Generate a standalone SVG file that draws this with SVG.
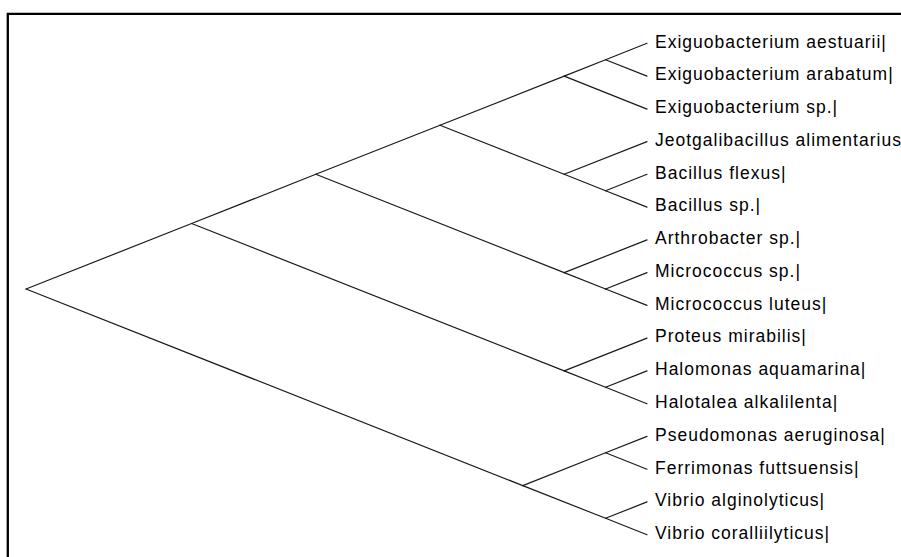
<svg xmlns="http://www.w3.org/2000/svg" width="901" height="557" viewBox="0 0 901 557">
<style>
.br{stroke:#1a1a1a;stroke-width:1.2;fill:none;stroke-linecap:round}
.lb{font-family:"Liberation Sans",Arial,sans-serif;font-size:17.5px;letter-spacing:1px;fill:#000}
.fr{stroke:#000;stroke-width:2.3;fill:none}
</style>
<rect width="901" height="557" fill="#fff"/>
<path class="fr" d="M7.8,557 V13.8 H901"/>
<g id="connectors">
<!-- root -->
<line class="br" x1="26" y1="289" x2="191.6" y2="223.5"/>
<line class="br" x1="26" y1="289" x2="522.8" y2="485.6"/>
<!-- A -->
<line class="br" x1="191.6" y1="223.5" x2="315.8" y2="174.3"/>
<line class="br" x1="191.6" y1="223.5" x2="564.2" y2="370.9"/>
<!-- B -->
<line class="br" x1="315.8" y1="174.3" x2="440" y2="125.2"/>
<line class="br" x1="315.8" y1="174.3" x2="564.2" y2="272.6"/>
<!-- C -->
<line class="br" x1="440" y1="125.2" x2="564.2" y2="76.1"/>
<line class="br" x1="440" y1="125.2" x2="564.2" y2="174.3"/>
<!-- D -->
<line class="br" x1="564.2" y1="76.1" x2="605.6" y2="59.7"/>
<line class="br" x1="564.2" y1="76.1" x2="647" y2="109.1"/>
<line class="br" x1="605.6" y1="59.7" x2="647" y2="43.3"/>
<line class="br" x1="605.6" y1="59.7" x2="647" y2="76.1"/>
<!-- G -->
<line class="br" x1="564.2" y1="174.3" x2="647" y2="141.6"/>
<line class="br" x1="564.2" y1="174.3" x2="605.6" y2="190.7"/>
<line class="br" x1="605.6" y1="190.7" x2="647" y2="174.3"/>
<line class="br" x1="605.6" y1="190.7" x2="647" y2="207.1"/>
<!-- I -->
<line class="br" x1="564.2" y1="272.6" x2="647" y2="239.9"/>
<line class="br" x1="564.2" y1="272.6" x2="605.6" y2="289"/>
<line class="br" x1="605.6" y1="289" x2="647" y2="272.6"/>
<line class="br" x1="605.6" y1="289" x2="647" y2="305.4"/>
<!-- K -->
<line class="br" x1="564.2" y1="370.9" x2="647" y2="338.1"/>
<line class="br" x1="564.2" y1="370.9" x2="605.6" y2="387.3"/>
<line class="br" x1="605.6" y1="387.3" x2="647" y2="370.9"/>
<line class="br" x1="605.6" y1="387.3" x2="647" y2="403.7"/>
<!-- N -->
<line class="br" x1="522.8" y1="485.6" x2="605.6" y2="452.8"/>
<line class="br" x1="522.8" y1="485.6" x2="605.6" y2="518.3"/>
<line class="br" x1="605.6" y1="452.8" x2="647" y2="436.4"/>
<line class="br" x1="605.6" y1="452.8" x2="647" y2="469.2"/>
<line class="br" x1="605.6" y1="518.3" x2="647" y2="501.9"/>
<line class="br" x1="605.6" y1="518.3" x2="647" y2="534.7"/>
</g>
<g id="leaf-0"><text class="lb" x="655" y="47.6">Exiguobacterium aestuarii|</text></g>
<g id="leaf-1"><text class="lb" x="655" y="80.4">Exiguobacterium arabatum|</text></g>
<g id="leaf-2"><text class="lb" x="655" y="113.4">Exiguobacterium sp.|</text></g>
<g id="leaf-3"><text class="lb" x="655" y="145.9">Jeotgalibacillus alimentarius</text></g>
<g id="leaf-4"><text class="lb" x="655" y="178.6">Bacillus flexus|</text></g>
<g id="leaf-5"><text class="lb" x="655" y="211.4">Bacillus sp.|</text></g>
<g id="leaf-6"><text class="lb" x="655" y="244.2">Arthrobacter sp.|</text></g>
<g id="leaf-7"><text class="lb" x="655" y="276.9">Micrococcus sp.|</text></g>
<g id="leaf-8"><text class="lb" x="655" y="309.7">Micrococcus luteus|</text></g>
<g id="leaf-9"><text class="lb" x="655" y="342.4">Proteus mirabilis|</text></g>
<g id="leaf-10"><text class="lb" x="655" y="375.2">Halomonas aquamarina|</text></g>
<g id="leaf-11"><text class="lb" x="655" y="408">Halotalea alkalilenta|</text></g>
<g id="leaf-12"><text class="lb" x="655" y="440.7">Pseudomonas aeruginosa|</text></g>
<g id="leaf-13"><text class="lb" x="655" y="473.5">Ferrimonas futtsuensis|</text></g>
<g id="leaf-14"><text class="lb" x="655" y="506.2">Vibrio alginolyticus|</text></g>
<g id="leaf-15"><text class="lb" x="655" y="539">Vibrio coralliilyticus|</text></g>
</svg>
